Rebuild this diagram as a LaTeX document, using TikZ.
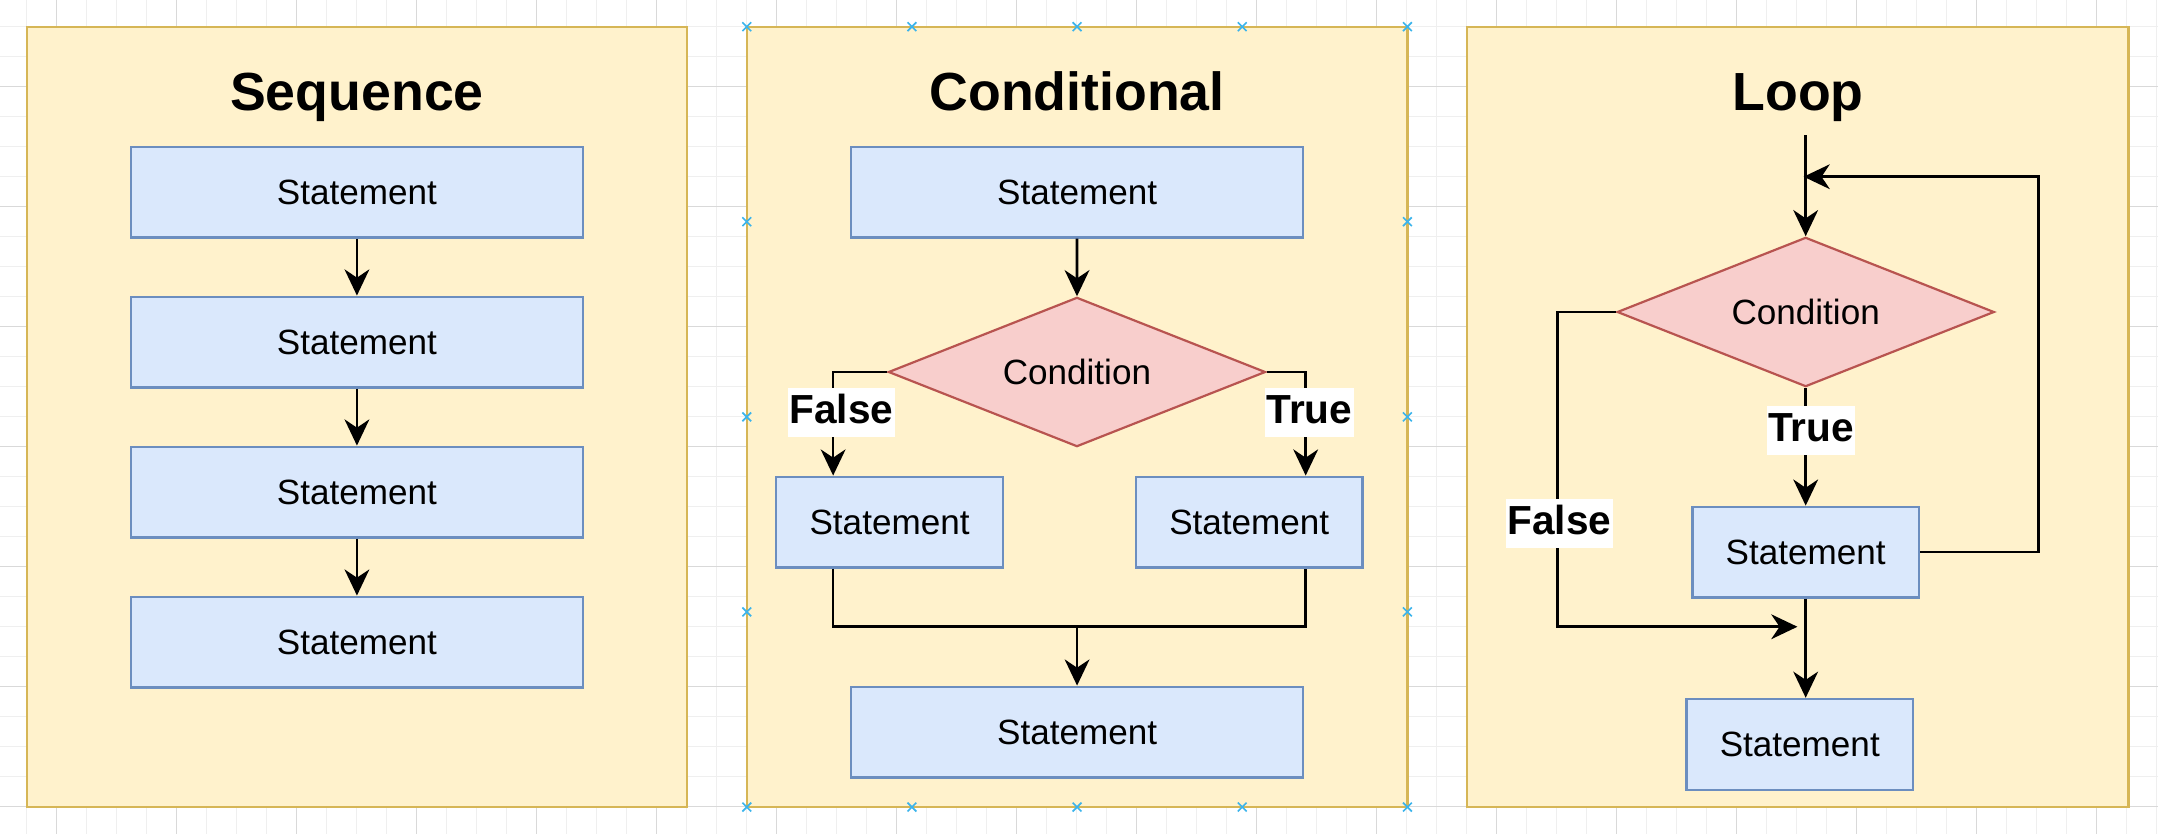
\documentclass[tikz,border=0pt]{standalone}
\usepackage{fontspec}
\setmainfont{Liberation Sans}
\usetikzlibrary{arrows.meta,shapes.geometric}
\definecolor{panelfill}{HTML}{FFF2CC}
\definecolor{paneldraw}{HTML}{D6B656}
\definecolor{boxfill}{HTML}{DAE8FC}
\definecolor{boxdraw}{HTML}{6C8EBF}
\definecolor{diafill}{HTML}{F8CECC}
\definecolor{diadraw}{HTML}{B85450}
\definecolor{selblue}{HTML}{3BB4EC}
\definecolor{gridminor}{HTML}{EFEFEF}
\definecolor{gridmajor}{HTML}{D9D9D9}
\begin{document}
\begin{tikzpicture}[x=1bp,y=-1bp,
  panel/.style={draw=paneldraw, fill=panelfill, line width=1.6bp},
  stmt/.style={draw=boxdraw, fill=boxfill, line width=1.6bp, rectangle, inner sep=0pt,
    minimum height=66bp, font=\fontsize{25.5bp}{30bp}\selectfont},
  wide/.style={stmt, minimum width=328bp},
  narrow/.style={stmt, minimum width=164.5bp},
  cond/.style={diamond, aspect=2.5, draw=diadraw, fill=diafill, line width=1.6bp,
    inner sep=0pt, minimum width=274bp, minimum height=108.5bp,
    font=\fontsize{25.5bp}{30bp}\selectfont},
  title/.style={anchor=base, font=\bfseries\fontsize{39bp}{46bp}\selectfont},
  lbl/.style={fill=white, inner xsep=1bp, inner ysep=0pt, text height=26bp, text depth=10bp,
    font=\bfseries\fontsize{29.5bp}{35bp}\selectfont},
  conn/.style={line width=1.9bp, draw=black},
  arr/.style={conn, -{Stealth[length=19bp, width=18bp, inset=6bp]}},
  selx/.style={draw=selblue, line width=1.2bp},
  gmin/.style={draw=gridminor, line width=0.7bp},
  gmaj/.style={draw=gridmajor, line width=0.7bp}
]
\useasboundingbox (0,0) rectangle (1568,606);
\fill[white] (0,0) rectangle (1568,606);
% grid
\foreach \i in {-1,...,70} \draw[gmin] ({41.06+21.8*\i},0) -- ({41.06+21.8*\i},606);
\foreach \j in {-2,...,25} \draw[gmin] (0,{62.5+21.8*\j}) -- (1568,{62.5+21.8*\j});
\foreach \i in {0,...,17} \draw[gmaj] ({41.06+87.2*\i},0) -- ({41.06+87.2*\i},606);
\foreach \j in {0,...,6} \draw[gmaj] (0,{62.5+87.2*\j}) -- (1568,{62.5+87.2*\j});
% panels
\draw[panel] (19.4,19.4) rectangle (499.4,586.4);
\draw[panel] (542.6,19.4) rectangle (1022.6,586.4);
\draw[panel] (1066,19.4) rectangle (1546.5,586.4);
% titles
\node[title] (ts) at (259.35,80) {Sequence};
\node[title] (tc) at (782.6,80) {Conditional};
\node[title] (tl) at (1306.5,80) {Loop};
% sequence
\node[wide] (s1) at (259.35,139.55) {Statement};
\node[wide] (s2) at (259.35,248.55) {Statement};
\node[wide] (s3) at (259.35,357.55) {Statement};
\node[wide] (s4) at (259.35,466.55) {Statement};
\draw[arr] (s1) -- (s2);
\draw[arr] (s2) -- (s3);
\draw[arr] (s3) -- (s4);
% conditional
\node[wide] (c0) at (782.6,139.55) {Statement};
\node[cond] (cd) at (782.5,270.3) {Condition};
\node[narrow] (cl) at (646.35,379.35) {Statement};
\node[narrow] (cr) at (907.7,379.35) {Statement};
\node[wide] (cb) at (782.6,531.95) {Statement};
\coordinate (cm) at (782.6,455.4);
\draw[arr] (c0) -- (cd);
\draw[arr] (cd.west) -| ([xshift=-41bp]cl.north);
\draw[arr] (cd.east) -| ([xshift=41bp]cr.north);
\draw[conn] ([xshift=-41bp]cl.south) |- (cm) -| ([xshift=41bp]cr.south);
\draw[arr] (cm) -- (cb.north);
\node[lbl] (cfalse) at (611.3,299.7) {False};
\node[lbl] (ctrue) at (951.4,299.7) {True};
% loop
\node[cond] (ld) at (1312,226.7) {Condition};
\node[narrow] (ls) at (1312,401.2) {Statement};
\node[narrow] (lb) at (1307.7,540.8) {Statement};
\coordinate (lin) at (1312,98.1);
\coordinate (lret) at (1310.5,128.4);
\coordinate (lcorner) at (1481,128.4);
\coordinate (lfc) at (1131.5,455.4);
\coordinate (lfe) at (1306,455.4);
\draw[arr] (lin) -- (ld.north);
\draw[arr] (ls.east) -| (lcorner) -- (lret);
\draw[arr] (ld) -- (ls);
\draw[arr] (ld.west) -| (lfc) -- (lfe);
\draw[arr] (ls.south) -- (ls.south |- lb.north);
\node[lbl] (ltrue) at (1316,312.9) {True};
\node[lbl] (lfalse) at (1133,380.3) {False};
% selection markers
\foreach \x in {542.6,662.6,782.6,902.6,1022.6}
  \foreach \y in {19.4,586.4}
    \draw[selx] ({\x-3.2},{\y-3.2}) -- ({\x+3.2},{\y+3.2}) ({\x-3.2},{\y+3.2}) -- ({\x+3.2},{\y-3.2});
\foreach \x in {542.6,1022.6}
  \foreach \y in {161.1,302.9,444.6}
    \draw[selx] ({\x-3.2},{\y-3.2}) -- ({\x+3.2},{\y+3.2}) ({\x-3.2},{\y+3.2}) -- ({\x+3.2},{\y-3.2});
\end{tikzpicture}
\end{document}
